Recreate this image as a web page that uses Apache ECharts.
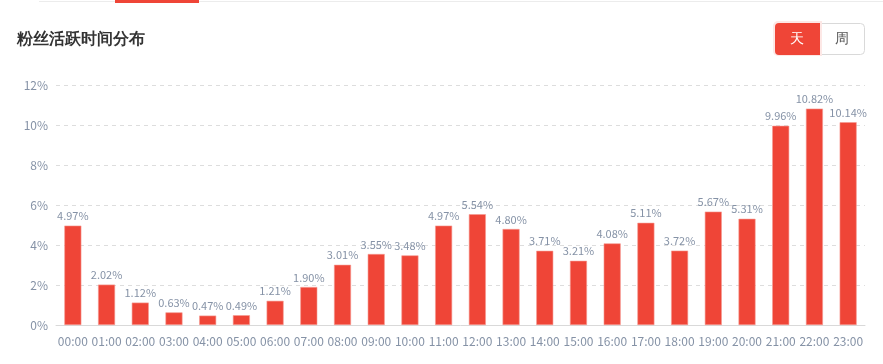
<!DOCTYPE html>
<html><head><meta charset="utf-8">
<script src="https://cdn.jsdelivr.net/npm/echarts@6/dist/echarts.min.js"></script>
<style>html,body{margin:0;padding:0;background:#fff;}#c{width:883px;height:364px;}</style>
</head><body><div id="c"></div>
<script>
const categories = ['00:00','01:00','02:00','03:00','04:00','05:00','06:00','07:00','08:00','09:00','10:00','11:00','12:00','13:00','14:00','15:00','16:00','17:00','18:00','19:00','20:00','21:00','22:00','23:00'];
const values = [4.97,2.02,1.12,0.63,0.47,0.49,1.21,1.90,3.01,3.55,3.48,4.97,5.54,4.80,3.71,3.21,4.08,5.11,3.72,5.67,5.31,9.96,10.82,10.14];
const yTicks = [0,2,4,6,8,10,12];
const title = '粉丝活跃时间分布';
const buttons = ['天','周'];

const chart = echarts.init(document.getElementById('c'), null, {renderer:'canvas'});
const font = '"Noto Sans CJK SC", "Noto Sans", sans-serif';
chart.setOption({
  animation:false,
  textStyle:{fontFamily:font},
  grid:{left:56,right:18,top:85,bottom:39},
  xAxis:{type:'category',data:categories,
    axisLine:{lineStyle:{color:'#d9d9d9'}},axisTick:{show:false},
    axisLabel:{color:'#8592a6',fontSize:12,margin:10,interval:0}},
  yAxis:{type:'value',min:yTicks[0],max:yTicks[yTicks.length-1],interval:2,
    axisLine:{show:false},axisTick:{show:false},
    axisLabel:{color:'#8592a6',fontSize:12,margin:8,formatter:'{value}%'},
    splitLine:{lineStyle:{color:'#dddddd',type:[4,4]}}},
  series:[{type:'bar',data:values,barWidth:17,
    itemStyle:{color:'#ef4537',borderColor:'#f59a92',borderWidth:0.6},
    label:{show:true,position:'top',distance:4,color:'#8592a6',fontSize:11,
      formatter:p=>p.value.toFixed(2)+'%'}}],
  graphic:[
    {type:'rect',shape:{x:39,y:1,width:844,height:1},style:{fill:'#ececec'}},
    {type:'rect',shape:{x:115,y:0,width:84,height:3},style:{fill:'#ef4537'}},
    {type:'text',left:17,top:32,style:{text:title,fontSize:16,fontWeight:'bold',fill:'#333',font:'bold 16px '+font}},
    {type:'rect',shape:{x:774.5,y:23.5,width:90,height:31,r:4},style:{fill:'#fff',stroke:'#d9d9d9',lineWidth:1}},
    {type:'rect',shape:{x:773,y:21,width:49,height:35,r:[5,0,0,5]},style:{fill:'#fde8e6'}},
    {type:'rect',shape:{x:775,y:23,width:45,height:32,r:[4,0,0,4]},style:{fill:'#ef4537'}},
    {type:'text',x:797,y:39,style:{text:buttons[0],fill:'#fff',fontSize:14,align:'center',verticalAlign:'middle',font:'14px '+font}},
    {type:'text',x:842,y:39,style:{text:buttons[1],fill:'#555',fontSize:14,align:'center',verticalAlign:'middle',font:'14px '+font}}
  ]
});
</script></body></html>
